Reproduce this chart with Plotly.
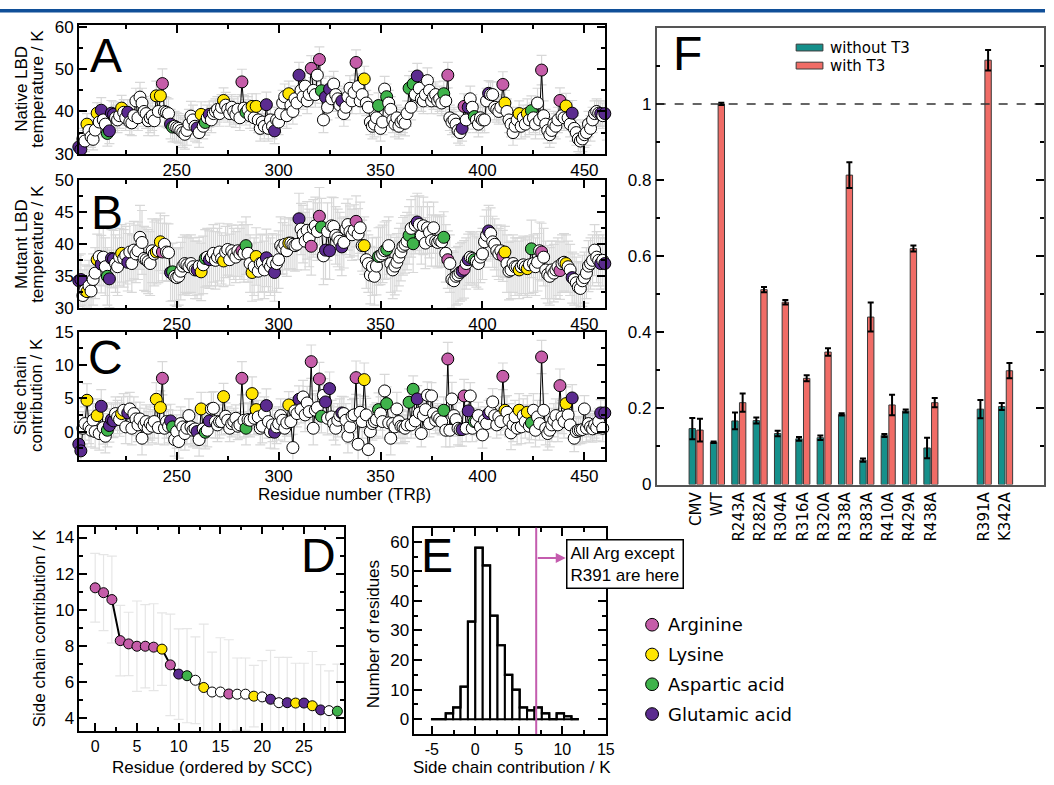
import plotly.graph_objects as go

W, H = 1054, 785
def px(x): return x / W
def py(y): return 1 - y / H

# ---------------- data: panels A-C (residues 202..461) ----------------
RES_START, RES_END = 202, 461
residues = list(range(RES_START, RES_END + 1))

native_T = [
    31.6, 31.0, 33.5, 33.0, 37.0, 35.5, 34.0, 33.4, 35.6, 39.6,
    37.5, 40.3, 38.0, 37.0, 34.8, 35.4, 39.6, 39.3, 38.5, 38.0,
    39.0, 40.8, 39.8, 38.5, 39.8, 37.5, 37.3, 39.0, 42.5, 38.5,
    43.4, 42.0, 40.0, 39.5, 37.8, 38.5, 39.0, 37.8, 43.7, 40.0,
    43.7, 46.6, 40.0, 39.8, 39.5, 37.0, 36.3, 36.5, 36.2, 36.0,
    35.5, 35.0, 34.6, 35.5, 37.0, 38.9, 38.0, 36.5, 36.1, 35.0,
    39.3, 36.5, 37.4, 38.5, 39.3, 38.0, 39.5, 40.0, 40.5, 39.5,
    41.0, 42.6, 41.5, 40.5, 39.5, 41.0, 40.0, 39.2, 40.5, 38.5,
    47.0, 40.8, 39.8, 40.5, 39.0, 41.2, 38.5, 41.2, 38.0, 36.0,
    37.5, 36.5, 41.6, 36.0, 38.0, 36.5, 35.4, 38.0, 37.5, 39.5,
    42.0, 43.5, 39.0, 44.2, 41.5, 40.0, 43.0, 42.0, 48.6, 45.0,
    43.5, 46.0, 42.5, 44.0, 50.2, 45.0, 44.0, 48.6, 52.3, 44.9,
    38.0, 43.4, 41.0, 45.3, 43.0, 46.5, 44.0, 43.0, 41.5, 42.5,
    39.5, 41.0, 43.5, 45.5, 42.5, 44.5, 51.6, 45.9, 42.5, 44.0,
    47.7, 42.0, 41.0, 37.5, 36.5, 37.0, 38.5, 41.4, 36.0, 37.5,
    45.3, 43.5, 42.0, 40.5, 38.0, 37.0, 38.5, 36.5, 37.5, 38.0,
    37.2, 39.5, 45.5, 41.0, 46.5, 44.0, 48.4, 45.5, 43.0, 42.5,
    44.0, 47.3, 45.0, 42.5, 43.5, 44.0, 42.5, 43.0, 42.0, 44.2,
    42.5, 48.6, 38.5, 37.5, 38.0, 37.0, 35.5, 35.0, 36.0, 41.2,
    38.0, 41.0, 43.0, 41.0, 38.8, 38.0, 37.0, 38.5, 38.0, 38.0,
    42.5, 44.3, 44.0, 44.0, 41.0, 40.5, 40.0, 41.0, 46.4, 42.0,
    40.0, 38.0, 37.0, 35.0, 36.5, 38.0, 39.5, 36.5, 38.5, 37.0,
    39.5, 38.0, 40.2, 38.5, 37.0, 42.0, 38.0, 49.8, 39.0, 37.0,
    35.5, 34.5, 35.5, 37.0, 36.5, 38.0, 42.6, 39.0, 38.5, 41.3,
    38.5, 37.0, 39.6, 36.0, 35.0, 33.5, 33.0, 33.5, 34.5, 35.0,
    37.0, 36.0, 38.0, 39.5, 40.0, 39.6, 39.5, 39.0, 39.5, 36.2,
]

mutant_T = [
    34.3, 34.5, 32.0, 32.8, 32.6, 33.5, 32.7, 34.5, 35.5, 37.6,
    38.1, 36.9, 38.0, 36.5, 35.0, 34.6, 37.8, 37.7, 37.0, 36.5,
    38.0, 38.6, 37.8, 38.3, 37.2, 38.8, 37.0, 39.1, 38.5, 39.0,
    41.1, 40.3, 37.8, 37.6, 37.3, 37.0, 39.0, 38.5, 38.8, 39.0,
    40.4, 38.8, 40.0, 38.8, 38.7, 35.6, 35.7, 35.0, 34.8, 35.0,
    35.8, 36.6, 37.0, 36.8, 36.5, 37.0, 36.5, 36.0, 36.0, 36.6,
    35.7, 36.8, 37.8, 38.0, 37.6, 38.0, 38.6, 37.5, 38.0, 38.8,
    37.8, 37.4, 38.8, 39.2, 37.6, 39.0, 38.5, 38.0, 39.0, 38.5,
    39.0, 38.6, 39.8, 38.6, 37.0, 35.6, 36.5, 38.1, 35.8, 37.0,
    37.1, 36.0, 37.9, 37.0, 36.5, 37.2, 35.6, 37.0, 37.6, 39.8,
    39.4, 40.0, 39.0, 40.2, 40.2, 40.0, 39.8, 40.0, 44.0, 42.4,
    41.6, 40.5, 42.2, 41.0, 39.7, 42.5, 42.9, 42.0, 44.4, 42.7,
    38.2, 39.1, 42.0, 39.0, 42.9, 42.8, 41.4, 41.0, 40.5, 39.6,
    40.3, 42.4, 43.1, 42.0, 41.5, 42.2, 43.6, 41.6, 42.6, 39.8,
    39.8, 37.6, 37.0, 35.2, 36.5, 35.0, 36.6, 38.1, 38.2, 38.5,
    39.0, 39.2, 39.8, 37.0, 36.0, 36.6, 37.2, 38.0, 38.8, 39.7,
    40.0, 40.5, 41.4, 42.5, 40.1, 43.0, 43.5, 43.1, 41.4, 42.9,
    40.2, 42.6, 41.9, 40.6, 42.6, 40.5, 40.3, 40.6, 40.4, 41.1,
    38.6, 37.6, 37.0, 34.5, 34.3, 35.0, 35.2, 35.6, 35.8, 36.1,
    37.0, 37.6, 38.0, 37.8, 37.6, 37.3, 37.0, 38.0, 38.5, 40.4,
    41.4, 42.1, 41.7, 40.4, 40.0, 39.0, 38.5, 39.0, 38.2, 38.8,
    37.0, 35.8, 36.0, 37.0, 36.5, 36.5, 36.0, 36.5, 36.8, 36.5,
    36.2, 36.8, 39.3, 37.0, 36.5, 37.2, 39.0, 38.8, 38.0, 36.0,
    35.3, 35.0, 36.0, 35.5, 36.0, 36.5, 35.9, 37.0, 37.2, 37.0,
    36.5, 36.0, 34.8, 34.5, 34.0, 33.3, 33.1, 34.3, 34.8, 35.5,
    36.6, 37.0, 37.5, 39.1, 38.0, 37.5, 37.0, 37.5, 37.0, 33.5,
]

side_chain = [
    -1.9, -2.9, 0.5, 1.2, 4.7, 0.7, 0.2, 1.7, 0.0, 2.4,
    -0.3, 3.8, 0.6, -0.7, 0.2, 0.9, 1.8, 1.6, 2.7, 2.2,
    1.8, 2.7, 3.2, 0.7, 2.8, 3.4, 0.5, 2.7, 1.9, 1.0,
    1.9, -1.0, 1.0, 1.5, 0.5, 1.2, 0.8, 1.5, 4.85, 0.6,
    3.6, 8.0, 0.5, 1.5, 0.8, 1.6, 0.7, -1.2, 0.0, -1.5,
    1.2, 0.7, -0.3, 0.5, 2.4, 0.7, 0.2, 0.4, 0.0, -1.2,
    3.4, 0.4, -0.1, 0.2, 1.6, 3.4, 3.5, 1.5, 1.0, 1.5,
    1.5, 5.25, 2.3, 1.7, 0.5, 1.2, 1.5, 2.0, 0.8, 1.0,
    8.0, 1.7, 0.5, 1.8, 1.7, 5.7, 2.0, 3.3, 2.2, 0.5,
    0.8, 2.7, 3.9, 1.5, 0.0, 1.0, -0.1, 0.7, 1.2, 2.4,
    1.7, 0.5, 1.3, 4.0, 1.5, -2.4, 3.1, 2.7, 4.85, 3.3,
    5.2, 2.5, 4.3, 3.0, 10.5, 0.5, 3.2, 3.6, 7.9, 2.3,
    5.45, 4.45, 2.0, 6.45, 2.2, 1.2, 0.5, 1.7, 2.4, 2.8,
    2.7, 1.7, -0.7, 0.7, 2.3, 2.5, 8.1, -1.9, 2.9, 1.5,
    7.8, 2.5, -2.7, 0.0, 1.2, 1.5, 1.8, 3.3, 2.7, 1.5,
    6.1, 4.2, 1.3, -1.0, 1.2, 0.7, 3.4, 1.5, 0.8, 0.7,
    0.5, 1.0, 4.4, 1.0, 6.35, 1.6, 4.9, 2.8, -0.3, 2.4,
    3.3, 5.45, 1.2, 5.35, 2.7, 1.7, 2.2, 1.9, 1.5, 3.2,
    0.2, 10.9, 0.2, 4.9, 2.4, 1.8, 0.5, 0.3, 0.3, 5.35,
    0.5, 3.1, 5.35, 0.5, 1.5, 1.5, 2.4, 0.7, -0.5, 1.7,
    1.2, 2.7, 3.0, 4.45, 2.4, 1.0, 2.2, 1.5, 8.3, 3.2,
    2.9, 1.7, -0.2, 1.0, 2.2, 0.5, 3.2, 0.7, 2.4, 1.5,
    2.9, 0.8, 1.3, 3.2, 0.2, 2.2, 1.2, 11.2, 3.2, 0.5,
    -0.3, 0.2, 1.0, 1.7, 2.4, 1.0, 6.9, 2.2, 1.5, 4.2,
    2.5, 1.0, 5.05, -1.0, 0.0, 0.2, 0.2, 0.3, 3.4, 0.5,
    1.2, 0.7, 0.4, 1.0, 0.6, 1.5, 2.8, 0.5, 2.8, 2.8,
]

# error estimates per block of 10 residues
native_err_blocks = [2.5, 3.0, 3.0, 3.5, 3.5, 3.5, 3.0, 3.0, 3.0, 3.0, 3.0, 3.0, 3.0,
                     3.0, 3.0, 3.0, 3.0, 3.0, 3.0, 3.0, 3.0, 3.0, 3.5, 3.0, 3.0, 3.0]
mutant_err_blocks = [4.0, 4.5, 4.5, 5.0, 4.5, 4.5, 4.5, 4.0, 4.5, 4.5, 4.0, 4.5, 4.5,
                     4.0, 4.5, 4.5, 4.5, 4.0, 4.5, 4.0, 4.0, 4.5, 4.5, 4.5, 4.0, 4.0]
scc_err_blocks = [2.5, 2.5, 2.5, 2.5, 2.5, 2.5, 2.5, 2.0, 2.5, 2.5, 2.0, 2.5, 2.5,
                  2.5, 2.5, 2.5, 2.0, 2.0, 2.5, 2.0, 2.0, 2.5, 2.5, 2.5, 2.0, 2.0]

# charged residues
ARG = [243, 282, 316, 320, 338, 383, 391, 410, 429, 438]
LYS = [206, 211, 223, 240, 242, 262, 273, 287, 289, 305, 342, 411, 418, 422, 441]
ASP = [216, 248, 264, 284, 321, 349, 353, 364, 366, 381, 396, 424, 461]
GLU = [202, 203, 213, 217, 218, 219, 226, 247, 260, 266, 294, 298, 310, 323, 325,
       331, 368, 390, 393, 403, 444, 458, 460]

# ---------------- data: panel D (top 30 by SCC) ----------------
D_rank = list(range(30))
D_scc = [11.22, 10.95, 10.57, 8.30, 8.12, 7.99, 7.99, 7.94, 7.83, 6.96,
         6.45, 6.36, 6.11, 5.71, 5.46, 5.46, 5.35, 5.34, 5.34, 5.23,
         5.19, 5.06, 4.87, 4.87, 4.85, 4.85, 4.70, 4.47, 4.43, 4.40]
D_err = [1.9, 2.1, 2.4, 1.95, 1.75, 2.5, 2.3, 2.4, 2.0, 2.8,
         2.5, 2.6, 2.4, 3.5, 2.2, 3.0, 3.0, 2.0, 2.0, 1.7,
         2.0, 2.7, 2.5, 2.5, 2.2, 2.2, 3.0, 2.5, 2.2, 2.6]
D_type = ['R', 'R', 'R', 'R', 'R', 'R', 'R', 'R', 'K', 'R',
          'E', 'D', '-', 'K', '-', '-', 'R', '-', '-', 'K',
          '-', 'E', '-', 'E', 'K', 'E', 'K', 'E', '-', 'D']

# ---------------- data: panel E (histogram) ----------------
E_edges = [-5.1, -4.25, -3.4, -2.55, -1.7, -0.85, 0.0, 0.85, 1.7, 2.55, 3.4,
           4.25, 5.1, 5.95, 6.8, 7.65, 8.5, 9.35, 10.2, 11.05, 11.9]
E_counts = [0, 0, 2, 4, 11, 33, 58, 52, 35, 25, 15, 10, 4, 3, 4, 2, 0, 2, 1, 0]
E_threshold = 7.0

# ---------------- data: panel F ----------------
F_labels = ["CMV", "WT", "R243A", "R282A", "R304A", "R316A", "R320A", "R338A",
            "R383A", "R410A", "R429A", "R438A", "R391A", "K342A"]
F_without = [0.147, 0.111, 0.167, 0.168, 0.134, 0.120, 0.123, 0.184, 0.064,
             0.129, 0.193, 0.096, 0.198, 0.205]
F_without_err = [0.028, 0.002, 0.022, 0.008, 0.007, 0.005, 0.006, 0.003, 0.004,
                 0.004, 0.004, 0.027, 0.024, 0.009]
F_with = [0.143, 1.000, 0.215, 0.512, 0.479, 0.279, 0.348, 0.813, 0.440,
          0.209, 0.620, 0.215, 1.115, 0.299]
F_with_err = [0.030, 0.003, 0.024, 0.007, 0.006, 0.008, 0.010, 0.034, 0.038,
              0.027, 0.008, 0.012, 0.027, 0.020]
F_yticks = [0, 0.2, 0.4, 0.6, 0.8, 1]

# ---------------- styles ----------------
FONT = "Liberation Sans"
FONT2 = "DejaVu Sans"
COL = {'R': '#c55da9', 'K': '#ffe500', 'D': '#3fb34b', 'E': '#5b2b8f', '-': '#ffffff'}
TEAL = '#15908b'
SALMON = '#f06c66'
MAGENTA_LINE = '#c45cae'
ERR_GRAY = '#d8d8d8'
TICK_SIZE = 17
TITLE_SIZE = 17


def rtype(r):
    if r in ARG:
        return 'R'
    if r in LYS:
        return 'K'
    if r in ASP:
        return 'D'
    if r in GLU:
        return 'E'
    return '-'


res_colors = [COL[rtype(r)] for r in residues]
block = [(r - RES_START) // 10 for r in residues]

fig = go.Figure()

for vals, errb, xa, ya in [(native_T, native_err_blocks, 'x', 'y'),
                           (mutant_T, mutant_err_blocks, 'x2', 'y2'),
                           (side_chain, scc_err_blocks, 'x3', 'y3')]:
    fig.add_trace(go.Scatter(
        x=residues, y=vals, mode='lines+markers', xaxis=xa, yaxis=ya,
        line=dict(color='black', width=1),
        marker=dict(size=12, color=res_colors, line=dict(color='black', width=1)),
        error_y=dict(type='data', array=[errb[b] for b in block], color=ERR_GRAY,
                     thickness=1.2, width=5),
        showlegend=False, cliponaxis=False))

# Panel D
fig.add_trace(go.Scatter(
    x=D_rank, y=D_scc, mode='lines+markers', xaxis='x4', yaxis='y4',
    line=dict(color='black', width=2),
    marker=dict(size=10, color=[COL[t] for t in D_type], line=dict(color='black', width=1)),
    error_y=dict(type='data', array=D_err, color='#e6e6e6', thickness=1.2, width=5),
    showlegend=False, cliponaxis=False))

# Panel E
centers = [(E_edges[i] + E_edges[i + 1]) / 2 for i in range(len(E_counts))]
fig.add_trace(go.Bar(
    x=centers, y=E_counts, width=E_edges[1] - E_edges[0], xaxis='x5', yaxis='y5',
    marker=dict(color='white', line=dict(color='black', width=2)), showlegend=False))
fig.add_trace(go.Scatter(
    x=E_edges, y=E_counts + [E_counts[-1]], mode='lines', line_shape='hv',
    line=dict(color='black', width=2.2), xaxis='x5', yaxis='y5', showlegend=False))

# Panel F
F_pos = [i + (1.5 if i >= 12 else 0) for i in range(len(F_labels))]
fig.add_trace(go.Bar(
    x=F_pos, y=F_without, width=0.3, offset=-0.33, xaxis='x6', yaxis='y6',
    marker=dict(color=TEAL, line=dict(color='#3a3a3a', width=1)),
    error_y=dict(type='data', array=F_without_err, color='black', thickness=2, width=3),
    showlegend=False))
fig.add_trace(go.Bar(
    x=F_pos, y=F_with, width=0.3, offset=0.03, xaxis='x6', yaxis='y6',
    marker=dict(color=SALMON, line=dict(color='#3a3a3a', width=1)),
    error_y=dict(type='data', array=F_with_err, color='black', thickness=2, width=3),
    showlegend=False))


def axis(**kw):
    base = dict(showline=True, linecolor='black', linewidth=1.5, mirror='allticks',
                ticks='inside', ticklen=8, tickwidth=1.5, tickcolor='black',
                showgrid=False, zeroline=False,
                tickfont=dict(family=FONT, size=TICK_SIZE, color='black'))
    base.update(kw)
    return base


def minor(d):
    return dict(dtick=d, ticks='inside', ticklen=4, tickwidth=1.5, tickcolor='black',
                showgrid=False)


small_tick = dict(family=FONT, size=16, color='black')
xdomA = [px(79.5), px(610)]
xres = dict(range=[202, 460], tick0=250, dtick=50, minor=minor(25))
fig.update_layout(
    xaxis=axis(domain=xdomA, anchor='y', **xres),
    yaxis=axis(domain=[py(148.3), py(16.7)], anchor='x', range=[30, 60.4], dtick=10,
               minor=minor(5)),
    xaxis2=axis(domain=xdomA, anchor='y2', **xres),
    yaxis2=axis(domain=[py(306.7), py(175.7)], anchor='x2', range=[30, 50], dtick=5,
                minor=minor(2.5)),
    xaxis3=axis(domain=xdomA, anchor='y3', **xres),
    yaxis3=axis(domain=[py(461.7), py(330.7)], anchor='x3', range=[-4.2, 15], tick0=0, dtick=5,
                minor=minor(2.5)),
    xaxis4=axis(domain=[px(80), px(347)], anchor='y4', range=[-1.9, 29.8], tick0=0, dtick=5,
                minor=minor(2.5), tickfont=small_tick),
    yaxis4=axis(domain=[py(740), py(530.5)], anchor='x4', range=[3.3, 14.6], tick0=0, dtick=2,
                minor=minor(1)),
    xaxis5=axis(domain=[px(418), px(611)], anchor='y5', range=[-7, 15],
                tickvals=[-5, 0, 5, 10, 15], ticktext=['-5', '0', '5', '10', '15'],
                minor=minor(2.5), tickfont=small_tick),
    yaxis5=axis(domain=[py(743), py(531.7)], anchor='x5', range=[-5, 64.7], tick0=0, dtick=10,
                minor=minor(5)),
    xaxis6=axis(domain=[px(662.3), px(1053)], anchor='y6', range=[-1.85, 16.3],
                tickvals=F_pos, ticktext=F_labels, tickangle=-90, ticks='', mirror=True,
                linecolor='#555555', tickfont=dict(family=FONT2, size=15, color='black')),
    yaxis6=axis(domain=[py(487.3), py(19.3)], anchor='x6', range=[0, 1.2],
                tickvals=F_yticks, ticktext=[f"{v:g}" for v in F_yticks],
                minor=minor(0.1), linecolor='#555555',
                tickfont=dict(family=FONT, size=TICK_SIZE, color='black')),
    barmode='overlay',
    width=W, height=H, autosize=False,
    margin=dict(l=0, r=0, t=0, b=0),
    paper_bgcolor='white', plot_bgcolor='white',
    font=dict(family=FONT, color='black'),
)

shapes = []
annotations = []

# top blue band
shapes.append(dict(type='rect', xref='paper', yref='paper', x0=0, x1=1, y0=py(3.5), y1=1,
                   fillcolor='#104f98', line=dict(width=0), layer='above'))
# F dashed line at 1
shapes.append(dict(type='line', xref='x6 domain', yref='y6', x0=0, x1=1, y0=1, y1=1,
                   line=dict(color='#333333', width=1.5, dash='dash')))
# E threshold line
shapes.append(dict(type='line', xref='x5', yref='y5 domain', x0=E_threshold, x1=E_threshold,
                   y0=0, y1=1, line=dict(color=MAGENTA_LINE, width=2)))
annotations.append(dict(xref='x5', yref='y5', axref='x5', ayref='y5', x=10.4, y=54.5,
                        ax=E_threshold, ay=54.5, text='', showarrow=True, arrowhead=2,
                        arrowsize=1, arrowwidth=2, arrowcolor=MAGENTA_LINE))
annotations.append(dict(xref='paper', yref='paper', x=px(571), y=py(543), xanchor='left',
                        yanchor='top', text='All Arg except<br>R391 are here', align='left',
                        showarrow=False, bordercolor='black', borderwidth=1.5, borderpad=3,
                        bgcolor='white', font=dict(family=FONT, size=17, color='black')))

# panel letters
for letter, x, y in [('A', 107, 48), ('B', 108, 209), ('C', 106, 357),
                     ('D', 321, 560), ('E', 441, 560), ('F', 693, 46)]:
    annotations.append(dict(xref='paper', yref='paper', x=px(x), y=py(y), text=letter,
                            showarrow=False, xanchor='center', yanchor='middle',
                            font=dict(family=FONT, size=48, color='black')))

# axis titles (y, rotated)
for txt, x, y in [('Native LBD', 21, 82), ('temperature / K', 37, 82),
                  ('Mutant LBD', 21, 241), ('temperature / K', 37, 241),
                  ('Side chain', 21, 396), ('contribution / K', 37, 396),
                  ('Side chain contribution / K', 40, 635),
                  ('Number of residues', 377, 641)]:
    annotations.append(dict(xref='paper', yref='paper', x=px(x), y=py(y), text=txt,
                            textangle=-90, showarrow=False, xanchor='center', yanchor='middle',
                            font=dict(family=FONT, size=TITLE_SIZE, color='black')))
# axis titles (x)
for txt, x, y in [('Residue number (TRβ)', 347, 498),
                  ('Residue (ordered by SCC)', 214, 777.5),
                  ('Side chain contribution / K', 516, 777.5)]:
    annotations.append(dict(xref='paper', yref='paper', x=px(x), y=py(y), text=txt,
                            showarrow=False, xanchor='center', yanchor='middle', borderpad=0,
                            font=dict(family=FONT, size=17, color='black')))

# F legend
for i, (name, c) in enumerate([('without T3', TEAL), ('with T3', SALMON)]):
    yc = 39.5 + i * 18.5
    shapes.append(dict(type='rect', xref='paper', yref='paper', x0=px(803), x1=px(830),
                       y0=py(yc + 3.5), y1=py(yc - 3.5), fillcolor=c,
                       line=dict(color='#3a3a3a', width=1)))
    annotations.append(dict(xref='paper', yref='paper', x=px(836), y=py(yc), text=name,
                            showarrow=False, xanchor='left', yanchor='middle', borderpad=0,
                            font=dict(family=FONT2, size=15, color='black')))

# residue-type legend
for i, (name, t) in enumerate([('Arginine', 'R'), ('Lysine', 'K'),
                               ('Aspartic acid', 'D'), ('Glutamic acid', 'E')]):
    yc = 631 + i * 30.5
    r = 6.5
    shapes.append(dict(type='circle', xref='paper', yref='paper', x0=px(657.7 - r),
                       x1=px(657.7 + r), y0=py(yc + r), y1=py(yc - r), fillcolor=COL[t],
                       line=dict(color='black', width=1)))
    annotations.append(dict(xref='paper', yref='paper', x=px(672), y=py(yc), text=name,
                            showarrow=False, xanchor='left', yanchor='middle',
                            font=dict(family=FONT2, size=18, color='black')))

fig.update_layout(shapes=shapes, annotations=annotations)
fig.write_html("out.html")
